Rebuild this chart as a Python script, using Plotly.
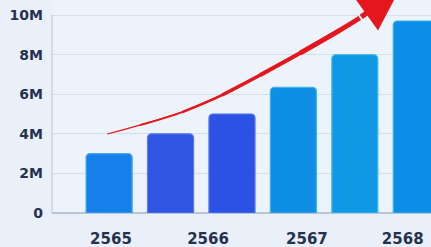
import plotly.graph_objects as go

# ---- data ----
bar_index = [0, 1, 2, 3, 4, 5]
bar_values = [3.0e6, 4.0e6, 5.0e6, 6.35e6, 8.0e6, 9.7e6]
bar_colors = ["#1580ea", "#2f55e2", "#2c52e4", "#0e8fe4", "#0f98e6", "#0c8ee6"]
bar_edges = ["#4aa6f4", "#5a78ee", "#5576ee", "#3fb2f0", "#45bbf2", "#3cb4f0"]

tick_pos = [0.03, 1.61, 3.22, 4.78]
tick_labels = ["2565", "2566", "2567", "2568"]

y_tickvals = [0, 2e6, 4e6, 6e6, 8e6, 10e6]
y_ticktext = ["0", "2M", "4M", "6M", "8M", "10M"]

# trend arrow path (bar-index units, values)
trend_x = [-0.03, 0.50, 1.19, 1.84, 2.46, 3.11, 3.76, 4.08]
trend_y = [3.99e6, 4.44e6, 5.10e6, 5.96e6, 6.97e6, 8.08e6, 9.24e6, 9.85e6]
trend_tip = (4.73, 11.3e6)

ink = "#263150"
red = "#e5171d"

fig = go.Figure()

fig.add_trace(go.Bar(
    x=bar_index, y=bar_values, width=0.75,
    marker=dict(color=bar_colors, line=dict(color=bar_edges, width=1.2)),
    hoverinfo="skip", showlegend=False,
))

# tapered trend line drawn in overlapping segments
widths = [1.2, 1.8, 2.5, 3.2, 4.0, 4.8]
for i, w in enumerate(widths):
    fig.add_trace(go.Scatter(
        x=trend_x[i:i + 3], y=trend_y[i:i + 3], mode="lines",
        line=dict(color=red, width=w, shape="spline"),
        hoverinfo="skip", showlegend=False,
    ))

fig.add_annotation(
    x=trend_tip[0], y=trend_tip[1], ax=trend_x[-1], ay=trend_y[-1],
    xref="x", yref="y", axref="x", ayref="y",
    showarrow=True, arrowhead=2, arrowsize=1.6, arrowwidth=5.2,
    arrowcolor=red, text="",
)

# left axis line only up to 10M
fig.add_shape(type="line", xref="paper", yref="y", x0=0, x1=0, y0=0, y1=10e6,
              line=dict(color="#c3ccda", width=1.2))

fig.update_layout(
    width=431, height=247,
    margin=dict(l=52, r=0, t=0, b=34, autoexpand=False),
    paper_bgcolor="#e9f0f9",
    plot_bgcolor="#edf3fb",
    barcornerradius=4,
    xaxis=dict(
        range=[-0.93, 5.24], tickmode="array", tickvals=tick_pos, ticktext=tick_labels,
        showgrid=False, zeroline=False, showline=False,
        ticks="outside", ticklen=12, tickcolor="rgba(0,0,0,0)",
        tickfont=dict(family="DejaVu Sans", size=15, color=ink, weight="bold"),
        automargin=False,
    ),
    yaxis=dict(
        range=[0, 10.76e6], tickmode="array", tickvals=y_tickvals, ticktext=y_ticktext,
        showgrid=True, gridcolor="#d6deea", gridwidth=1,
        zeroline=True, zerolinecolor="#b9c4d5", zerolinewidth=1.5,
        showline=False, ticks="", ticklabelstandoff=8,
        tickfont=dict(family="DejaVu Sans", size=14, color=ink, weight="bold"),
        automargin=False,
    ),
)

fig.write_html(
    "out.html",
    config={"displayModeBar": False},
    post_script="document.body.style.margin='0';document.body.style.background='#e9f0f9';",
)
